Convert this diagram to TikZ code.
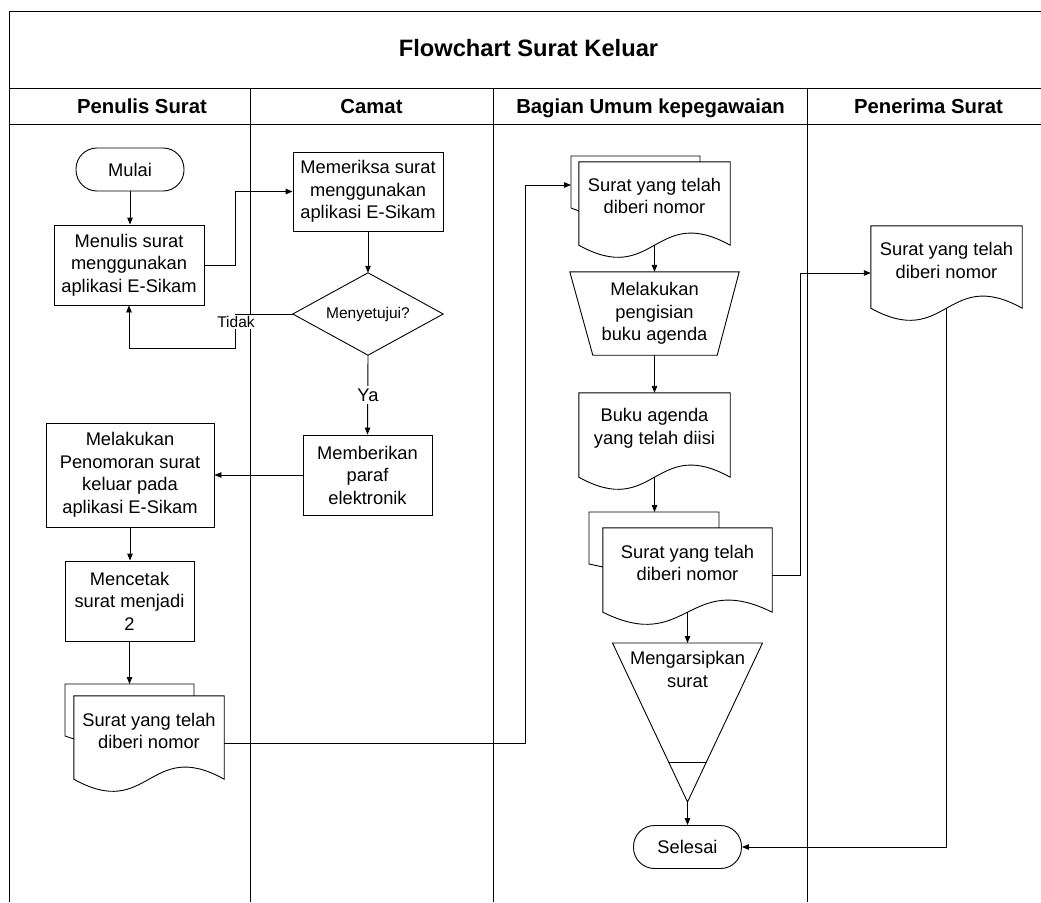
\documentclass[tikz,border=0pt]{standalone}
\usepackage{fontspec}
\setmainfont{Liberation Sans}
\usetikzlibrary{arrows.meta,calc}
\newcommand\bodyfnt{\fontsize{18.3}{22.5}\selectfont}
\newcommand\smallfnt{\fontsize{15.5}{18}\selectfont}
\newcommand\headfnt{\fontsize{20.3}{24}\selectfont\bfseries}
\newcommand\titlefnt{\fontsize{23.7}{28}\selectfont\bfseries}
\newcommand\docwave[2]{%
  \draw[ln] (#1.north west) -- (#1.north east) -- ($(#1.south east)+(0,#2)$)
    .. controls ($(#1.south)+(0,#2-42)$) and ($(#1.south)+(0,#2+42)$) ..
    ($(#1.south west)+(0,#2)$) -- cycle;}
\tikzset{
  ln/.style={line width=0.9pt, line join=miter},
  arr/.style={ln, -{Triangle[length=7pt,width=5.5pt]}},
  txtnode/.style={align=center, font=\bodyfnt, inner sep=0pt},
  procbox/.style={txtnode, draw, ln},
  term/.style={procbox, rounded corners=21pt, minimum width=108pt, minimum height=43pt},
  lbl/.style={fill=white, inner sep=1.5pt},
  headtxt/.style={font=\headfnt, anchor=base, inner sep=0pt}
}
\begin{document}
\begin{tikzpicture}[x=1pt, y=-1pt]
\useasboundingbox (0,0) rectangle (1041,902);
% frame and lanes
\draw[ln] (9,902) -- (9,11) -- (1041,11);
\draw[ln] (9,88) -- (1041,88);
\draw[ln] (9,124) -- (1041,124);
\draw[ln] (250,88) -- (250,902);
\draw[ln] (493,88) -- (493,902);
\draw[ln] (807,88) -- (807,902);
\node[font=\titlefnt, anchor=base, inner sep=0pt] (title) at (528.5,56.7) {Flowchart Surat Keluar};
\node[headtxt] (h1) at (142,113.3) {Penulis Surat};
\node[headtxt] (h2) at (371.5,113.3) {Camat};
\node[headtxt] (h3) at (650.5,113.3) {Bagian Umum kepegawaian};
\node[headtxt] (h4) at (928.5,113.3) {Penerima Surat};

% lane 1
\node[term] (mulai) at (130,169.5) {Mulai};
\node[procbox, minimum width=150pt, minimum height=80pt] (menulis) at (129,265) {Menulis surat\\menggunakan\\aplikasi E-Sikam};
\node[procbox, minimum width=168pt, minimum height=104pt] (penomoran) at (130,475) {Melakukan\\Penomoran surat\\keluar pada\\aplikasi E-Sikam};
\node[procbox, minimum width=129pt, minimum height=80pt] (mencetak) at (129.5,601) {Mencetak\\surat menjadi\\2};
% multi document lane 1
\draw[ln] (74,739) -- (65,736) -- (65,684) -- (194,684) -- (194,696);
\coordinate (d1k) at (129.5,684);
\node[txtnode, minimum width=150pt, minimum height=70pt] (d1) at (149,731) {Surat yang telah\\diberi nomor};
\docwave{d1}{13}

% lane 2
\node[procbox, minimum width=150pt, minimum height=79pt] (memeriksa) at (368,191.5) {Memeriksa surat\\menggunakan\\aplikasi E-Sikam};
\node[txtnode, font=\smallfnt, minimum width=150pt, minimum height=82pt] (dia) at (368,314) {Menyetujui?};
\draw[ln] (dia.north) -- (dia.east) -- (dia.south) -- (dia.west) -- cycle;
\node[procbox, minimum width=129pt, minimum height=80pt] (memberikan) at (367.5,475) {Memberikan\\paraf\\elektronik};

% lane 3
\draw[ln] (579,211) -- (571,208) -- (571,156) -- (700,156) -- (700,162);
\coordinate (m2k) at (571,185);
\node[txtnode, minimum width=151pt, minimum height=68pt] (m2) at (654.5,196) {Surat yang telah\\diberi nomor};
\docwave{m2}{15}
\node[txtnode, minimum width=169pt, minimum height=83pt] (tz) at (654.5,313.5) {Melakukan\\pengisian\\buku agenda};
\draw[ln] (tz.north west) -- (tz.north east) -- ($(tz.south east)+(-22,0)$) -- ($(tz.south west)+(23,0)$) -- cycle;
\node[txtnode, minimum width=151pt, minimum height=71pt] (bk) at (654.5,428.5) {Buku agenda\\yang telah diisi};
\docwave{bk}{13}
\draw[ln] (603,567) -- (589,564) -- (589,512) -- (719,512) -- (719,528);
\coordinate (m3k) at (654.5,512);
\node[txtnode, minimum width=169pt, minimum height=70pt] (m3) at (687.5,563) {Surat yang telah\\diberi nomor};
\docwave{m3}{14}
\coordinate (tritop) at (687.5,643);
\coordinate (triapex) at (687.5,802);
\draw[ln] (612.5,643) -- (762.5,643) -- (triapex) -- cycle;
\draw[ln] (668.6,762) -- (706.4,762);
\node[txtnode] (tri) at (687.5,669.5) {Mengarsipkan\\surat};
\node[term] (selesai) at (687.5,847) {Selesai};

% lane 4
\node[txtnode, minimum width=151pt, minimum height=69pt] (tg) at (946.5,260.5) {Surat yang telah\\diberi nomor};
\docwave{tg}{13}

% connectors
\draw[arr] (mulai.south) -- (mulai.south |- menulis.north);
\draw[arr] (menulis.east) -- ($(menulis.east)+(31,0)$) |- (memeriksa.west);
\draw[arr] (memeriksa.south) -- (dia.north);
\draw[arr] (dia.west) -- (235,314) -- (235,348) -| (menulis.south);
\node[lbl, font=\smallfnt] (tidak) at (236,322) {Tidak};
\draw[arr] (dia.south) -- (memberikan.north);
\node[lbl, font=\bodyfnt, inner sep=3pt] (ya) at (368,395) {Ya};
\draw[arr] (memberikan.west) -- (penomoran.east);
\draw[arr] (penomoran.south) -- (penomoran.south |- mencetak.north);
\draw[arr] (mencetak.south) -- (d1k);
\draw[arr] ($(d1.east)+(0,12)$) -- (525,743) -- (525,185) -- (m2k);
\draw[arr] ($(m2.south)+(0,15)$) -- (tz.north);
\draw[arr] (tz.south) -- (bk.north);
\draw[arr] ($(bk.south)+(0,13)$) -- (m3k);
\draw[arr] ($(m3.east)+(0,12)$) -- (800,575) -- (800,273) -- ($(tg.west)+(0,12.5)$);
\draw[arr] ($(m3.south)+(0,14)$) -- (tritop);
\draw[arr] (triapex) -- (selesai.north);
\draw[arr] ($(tg.south)+(0,13)$) |- (selesai.east);
\end{tikzpicture}
\end{document}
